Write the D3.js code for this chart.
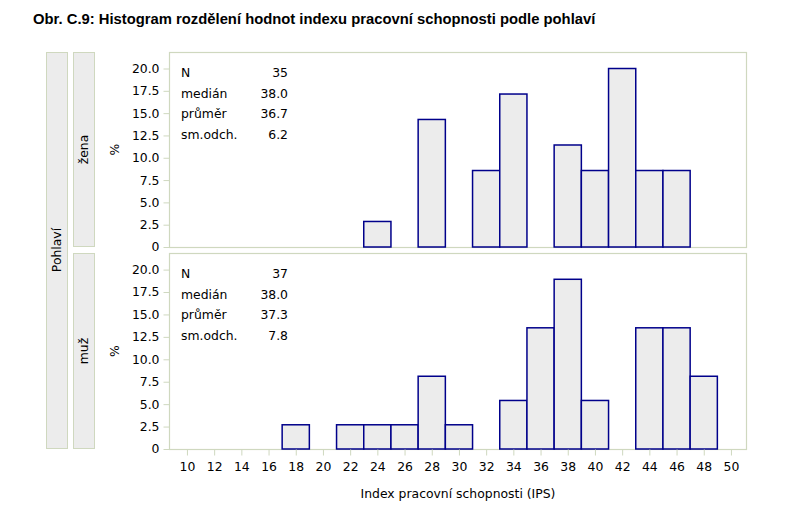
<!DOCTYPE html>
<html><head><meta charset="utf-8">
<script src="https://cdn.jsdelivr.net/npm/d3@7"></script>
<style>
body{margin:0;background:#fff;}
svg text{font-family:"DejaVu Sans",sans-serif;}
</style>
</head><body>
<svg id="c" width="801" height="529"></svg>
<script>
const title = "Obr. C.9: Histogram rozdělení hodnot indexu pracovní schopnosti podle pohlaví";
const groups = ["žena", "muž"];
const binCenters = [18,20,22,24,26,28,30,32,34,36,38,40,42,44,46,48];
const zenaPct = [0,0,0,2.86,0,14.29,0,8.57,17.14,0,11.43,8.57,20.0,8.57,8.57,0];
const muzPct  = [2.70,0,2.70,2.70,2.70,8.11,2.70,0,5.41,13.51,18.92,5.41,0,13.51,13.51,8.11];
const statLabels = ["N","medián","průměr","sm.odch."];
const zenaStats = ["35","38.0","36.7","6.2"];
const muzStats  = ["37","38.0","37.3","7.8"];
const xTicks = d3.range(10, 51, 2);
const yTicks = [0,2.5,5,7.5,10,12.5,15,17.5,20];
const binWidth = 2;

const svg = d3.select("#c");
const borderCol = "#cfd8bf";
const stripFill = "#ececec";
const fs = 12.4;

svg.append("text").attr("x",33).attr("y",24)
  .style("font-family","'Liberation Sans',Arial,sans-serif")
  .attr("font-size",14.8).attr("font-weight","bold").attr("fill","#000").text(title);

const L = 169, R = 747;
const panels = [
  {name: groups[0], vals: zenaPct, stats: zenaStats, top: 52, bot: 247},
  {name: groups[1], vals: muzPct, stats: muzStats, top: 253, bot: 449}
];
const x = d3.scaleLinear().domain([8.68, 51.18]).range([L, R]);

// outer strip
svg.append("rect").attr("x",46.5).attr("y",52.5).attr("width",21).attr("height",396)
  .attr("fill",stripFill).attr("stroke",borderCol);
svg.append("text").attr("transform","translate(61,250) rotate(-90)").attr("text-anchor","middle")
  .attr("font-size",fs).text("Pohlaví");

panels.forEach(p => {
  const y = d3.scaleLinear().domain([0, 21.85]).range([p.bot, p.top]);
  svg.append("rect").attr("x",73.5).attr("y",p.top+0.5).attr("width",21).attr("height",p.bot-p.top-1)
    .attr("fill",stripFill).attr("stroke",borderCol);
  svg.append("text").attr("transform",`translate(88,${(p.top+p.bot)/2}) rotate(-90)`).attr("text-anchor","middle")
    .attr("font-size",fs).text(p.name);
  svg.append("text").attr("transform",`translate(119,${(p.top+p.bot)/2}) rotate(-90)`).attr("text-anchor","middle")
    .attr("font-size",fs).text("%");
  svg.append("rect").attr("x",L+0.5).attr("y",p.top+0.5).attr("width",R-L-1).attr("height",p.bot-p.top)
    .attr("fill","#fff").attr("stroke",borderCol).attr("stroke-width",1.2);
  const ya = d3.axisLeft(y).tickValues(yTicks).tickSize(6).tickPadding(4)
    .tickFormat(d => d === 0 ? "0" : d3.format(".1f")(d));
  const g = svg.append("g").attr("transform",`translate(${L+0.5},0)`).call(ya);
  g.select(".domain").remove();
  g.selectAll(".tick line").attr("stroke",borderCol);
  g.selectAll(".tick text").attr("font-size",fs).attr("fill","#000").style("font-family","'DejaVu Sans',sans-serif");
  const data = binCenters.map((c,i) => ({c, v: p.vals[i]})).filter(d => d.v > 0);
  svg.append("g").selectAll("rect").data(data).join("rect")
    .attr("x", d => x(d.c - binWidth/2))
    .attr("width", d => x(d.c + binWidth/2) - x(d.c - binWidth/2))
    .attr("y", d => y(d.v))
    .attr("height", d => y(0) - y(d.v))
    .attr("fill","#ececec").attr("stroke","#00008b").attr("stroke-width",1.5);
  const st = svg.append("g");
  statLabels.forEach((s,i) => {
    st.append("text").attr("x",181).attr("y",p.top+25+i*20.7).attr("font-size",fs).text(s);
    st.append("text").attr("x",288).attr("y",p.top+25+i*20.7).attr("font-size",fs).attr("text-anchor","end").text(p.stats[i]);
  });
  if (p === panels[1]) {
    const xa = d3.axisBottom(x).tickValues(xTicks).tickSize(6).tickPadding(7).tickFormat(d3.format("d"));
    const gx = svg.append("g").attr("transform",`translate(0,${p.bot+0.5})`).call(xa);
    gx.select(".domain").remove();
    gx.selectAll(".tick line").attr("stroke",borderCol);
    gx.selectAll(".tick text").attr("font-size",fs).attr("fill","#000").style("font-family","'DejaVu Sans',sans-serif");
  }
});

svg.append("text").attr("x",(L+R)/2).attr("y",498).attr("text-anchor","middle").attr("font-size",fs)
  .text("Index pracovní schopnosti (IPS)");
</script>
</body></html>
